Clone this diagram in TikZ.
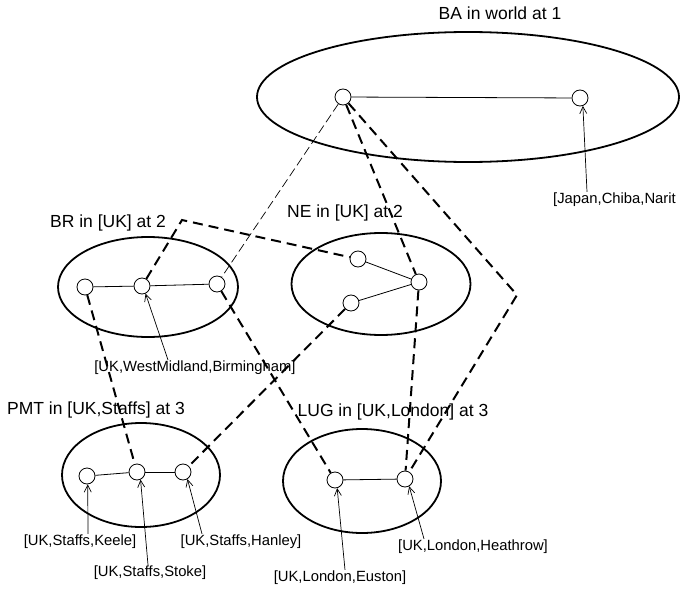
\documentclass[tikz,border=0pt]{standalone}
\usepackage{fontspec}
\setmainfont{Liberation Sans}
\usetikzlibrary{arrows.meta,shapes.geometric}
\begin{document}
\begin{tikzpicture}[x=1pt,y=-1pt,
  region/.style={ellipse, draw, line width=1.8pt, inner sep=0pt},
  site/.style={circle, draw, fill=white, minimum size=16pt, inner sep=0pt, line width=0.8pt},
  link/.style={line width=0.8pt},
  tie/.style={line width=2pt, dash pattern=on 10pt off 6pt},
  faint/.style={line width=0.7pt, dash pattern=on 9pt off 4pt},
  title/.style={font=\fontsize{17.5}{20}\selectfont, inner sep=1pt},
  addr/.style={font=\fontsize{14.8}{17}\selectfont, inner sep=1pt},
  pointer/.style={line width=0.7pt, -{Straight Barb[length=7pt,width=7pt]}}]
\useasboundingbox (0,0) rectangle (680,594);
% regions
\node[region, minimum width=422pt, minimum height=130pt] (ba) at (468,97) {};
\node[region, minimum width=180pt, minimum height=100pt] (br) at (148,287) {};
\node[region, minimum width=179pt, minimum height=102pt] (ne) at (381,284) {};
\node[region, minimum width=158pt, minimum height=104pt] (pmt) at (141,475) {};
\node[region, minimum width=158pt, minimum height=104pt] (lug) at (362,481) {};
% sites
\node[site] (ba1) at (343,97) {};
\node[site] (ba2) at (580,98) {};
\node[site] (br1) at (85,287) {};
\node[site] (br2) at (142,286) {};
\node[site] (br3) at (217,284) {};
\node[site] (ne1) at (358,259) {};
\node[site] (ne2) at (419,282) {};
\node[site] (ne3) at (351,303) {};
\node[site] (pmt1) at (87,476) {};
\node[site] (pmt2) at (137,472) {};
\node[site] (pmt3) at (183,472) {};
\node[site] (lug1) at (335,480) {};
\node[site] (lug2) at (405,479) {};
% solid links
\draw[link] (ba1) -- (ba2);
\draw[link] (br1) -- (br2);
\draw[link] (br2) -- (br3);
\draw[link] (ne1) -- (ne2);
\draw[link] (ne3) -- (ne2);
\draw[link] (pmt1) -- (pmt2);
\draw[link] (pmt2) -- (pmt3);
\draw[link] (lug1) -- (lug2);
% dashed ties
\coordinate (brk) at (182,220);
\coordinate (bak) at (517,295);
\draw[faint] (ba1) -- (br3);
\draw[tie] (ba1) -- (ne2);
\draw[tie] (ba1) -- (bak) -- (lug2);
\draw[tie] (br2) -- (brk) -- (ne1);
\draw[tie] (br1) -- (pmt2);
\draw[tie] (br3) -- (lug1);
\draw[tie] (ne3) -- (pmt3);
\draw[tie] (ne2) -- (lug2);
% titles
\node[title] (bat) at (500,13) {BA in world at 1};
\node[title] (brt) at (108,223) {BR in [UK] at 2};
\node[title] (net) at (345,213) {NE in [UK] at 2};
\node[title] (pmtt) at (96,410) {PMT in [UK,Staffs] at 3};
\node[title] (lugt) at (393,412) {LUG in [UK,London] at 3};
% addresses
\node[addr, anchor=west] (japan) at (552,200) {[Japan,Chiba,Narit};
\node[addr] (birm) at (195,368) {[UK,WestMidland,Birmingham]};
\node[addr] (keele) at (80,542) {[UK,Staffs,Keele]};
\node[addr] (hanley) at (241,542) {[UK,Staffs,Hanley]};
\node[addr] (stoke) at (150,573) {[UK,Staffs,Stoke]};
\node[addr] (heath) at (473,547) {[UK,London,Heathrow]};
\node[addr] (euston) at (340,578) {[UK,London,Euston]};
% pointers
\draw[pointer] ([xshift=35pt]japan.north west) -- (ba2.-70);
\draw[pointer] ([xshift=-27pt]birm.north) -- (br2.-65);
\draw[pointer] ([xshift=8pt]keele.north) -- (pmt1.-85);
\draw[pointer] ([xshift=-2pt]stoke.north) -- (pmt2.-65);
\draw[pointer] ([xshift=-39pt]hanley.north) -- (pmt3.-58);
\draw[pointer] ([xshift=5pt]euston.north) -- (lug1.-75);
\draw[pointer] ([xshift=-49pt]heath.north) -- (lug2.-60);
\end{tikzpicture}
\end{document}
